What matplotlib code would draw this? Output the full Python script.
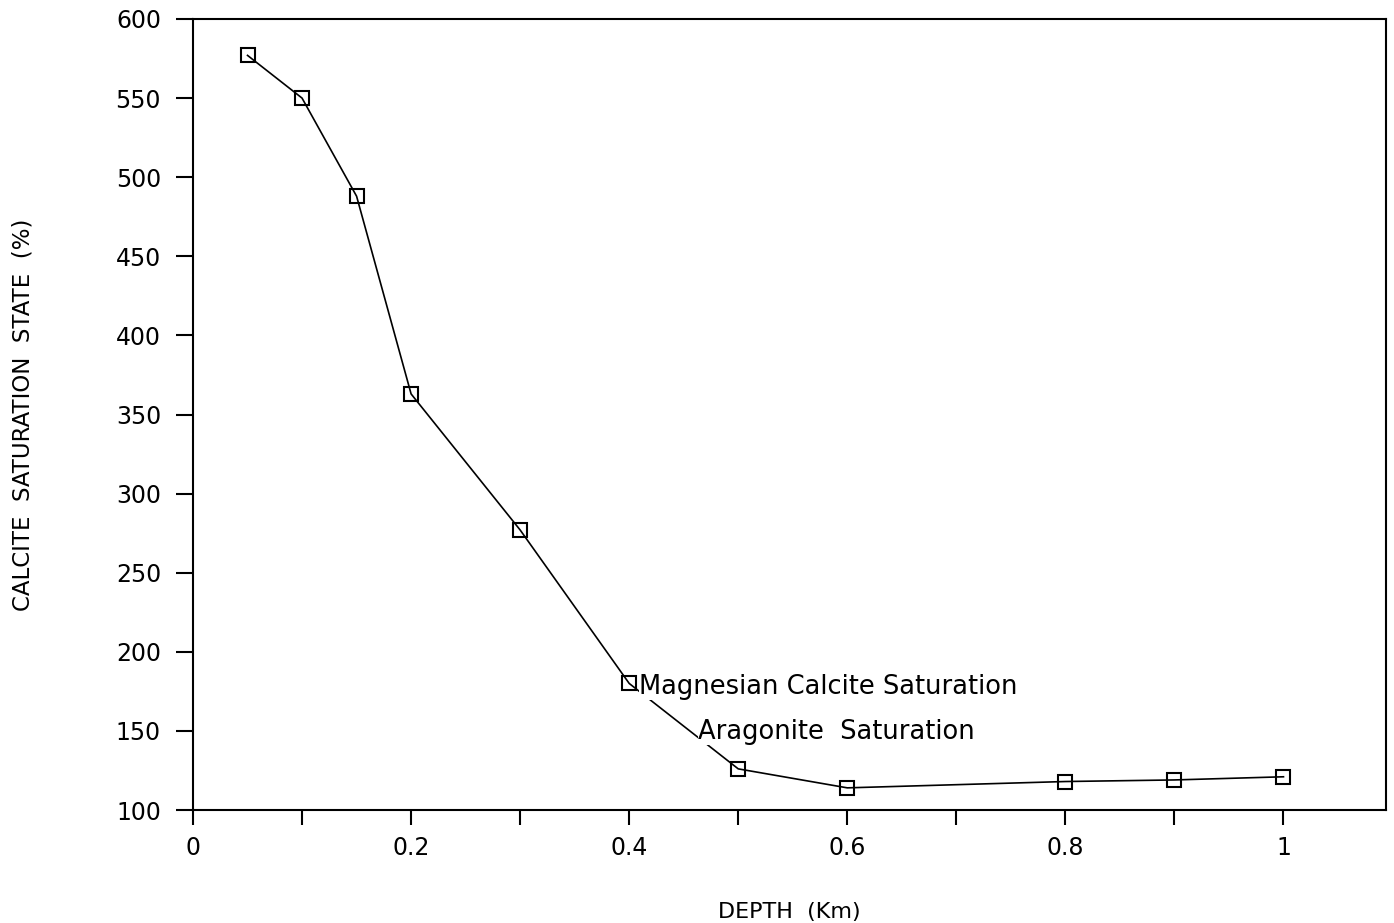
import matplotlib
matplotlib.use('Agg')
import matplotlib.pyplot as plt
from matplotlib.ticker import MultipleLocator

# depth (km) and calcite saturation (%)
depth = [0.05, 0.1, 0.15, 0.2, 0.3, 0.4, 0.5, 0.6, 0.8, 0.9, 1.0]
saturation = [577, 550, 488, 363, 277, 180, 126, 114, 118, 119, 121]

x_ticks = [0, 0.2, 0.4, 0.6, 0.8, 1]
x_tick_labels = ['0', '0.2', '0.4', '0.6', '0.8', '1']
y_ticks = [100, 150, 200, 250, 300, 350, 400, 450, 500, 550, 600]

fig = plt.figure(figsize=(13.94, 9.23), dpi=100)
ax = fig.add_axes([193 / 1394, 1 - 810 / 923, (1386 - 193) / 1394, (810 - 19) / 923])

ax.plot(depth, saturation, color='black', linewidth=1.2, marker='s',
        markersize=10, markerfacecolor='none', markeredgecolor='black',
        markeredgewidth=1.5, zorder=2)

# labels with white boxes that cut the line
ax.text(0.409, 178, 'Magnesian Calcite Saturation', fontsize=18.5, va='center',
        ha='left', zorder=3,
        bbox=dict(facecolor='white', edgecolor='none', pad=0))
ax.text(0.463, 149, 'Aragonite  Saturation', fontsize=18.5, va='center',
        ha='left', zorder=3,
        bbox=dict(facecolor='white', edgecolor='none', pad=0))

ax.set_xlim(0, 1.094)
ax.set_ylim(100, 600)
ax.set_xticks(x_ticks)
ax.set_xticklabels(x_tick_labels)
ax.xaxis.set_minor_locator(MultipleLocator(0.1))
ax.set_yticks(y_ticks)

ax.tick_params(axis='x', which='both', direction='out', length=11, width=1.5,
               labelsize=17, pad=8, top=False)
ax.tick_params(axis='y', direction='out', length=12, width=1.5,
               labelsize=17, pad=11, right=False)
for s in ax.spines.values():
    s.set_linewidth(1.5)

ax.set_xlabel('DEPTH  (Km)', fontsize=16, labelpad=30)
ax.set_ylabel('CALCITE  SATURATION  STATE  (%)', fontsize=16.5, labelpad=58)

fig.savefig('out.png', dpi=100)
